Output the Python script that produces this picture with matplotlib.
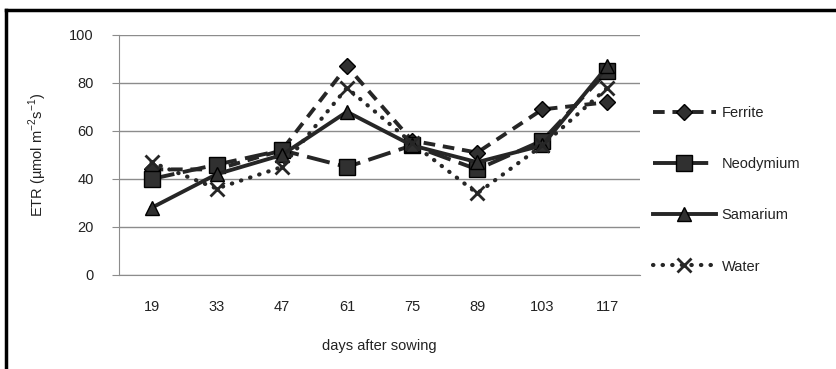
import matplotlib
matplotlib.use("Agg")
import matplotlib.pyplot as plt
from matplotlib.lines import Line2D

plt.rcParams['font.family'] = ['Liberation Sans', 'DejaVu Sans']
plt.rcParams['font.size'] = 10.5
plt.rcParams['axes.unicode_minus'] = False

# 数据
days = ['19', '33', '47', '61', '75', '89', '103', '117']
ferrite = [44, 44, 52, 87, 56, 51, 69, 72]
neodymium = [40, 46, 52, 45, 54, 44, 56, 85]
samarium = [28, 42, 50, 68, 54, 47, 54, 87]
water = [47, 36, 45, 78, 55, 34, 54, 78]

fig = plt.figure(figsize=(8.37, 3.69), dpi=100)
ax = fig.add_axes([119 / 837, 1 - 275 / 369, 521 / 837, 240 / 369])

x = list(range(len(days)))
dark = '#262626'
face = '#303030'

ax.plot(x, ferrite, color=dark, lw=2.8, linestyle=(0, (3, 2)),
        marker='D', markersize=8, markerfacecolor=face, markeredgecolor='black',
        label='Ferrite', zorder=3)
ax.plot(x, neodymium, color=dark, lw=2.8, linestyle=(0, (6, 2.2)),
        marker='s', markersize=11, markerfacecolor=face, markeredgecolor='black',
        label='Neodymium', zorder=3)
ax.plot(x, samarium, color=dark, lw=2.8, linestyle='-',
        marker='^', markersize=10, markerfacecolor=face, markeredgecolor='black',
        label='Samarium', zorder=3)
ax.plot(x, water, color=dark, lw=3.0, linestyle=(0, (0.1, 2.2)), dash_capstyle='round',
        marker='x', markersize=10, markeredgewidth=2, markeredgecolor=dark,
        label='Water', zorder=3)

ax.set_xlim(-0.5, len(days) - 0.5)
ax.set_ylim(0, 100)
ax.set_yticks([0, 20, 40, 60, 80, 100])
ax.set_xticks(x)
ax.set_xticklabels(days)

ax.grid(axis='y', color='#8c8c8c', lw=1)
ax.set_axisbelow(True)
for s in ['top', 'right']:
    ax.spines[s].set_visible(False)
ax.spines['left'].set_color('#8c8c8c')
ax.spines['bottom'].set_color('#8c8c8c')
ax.tick_params(axis='y', length=5, color='#8c8c8c', pad=13, labelcolor='#222222')
ax.tick_params(axis='x', length=0, pad=18, labelcolor='#222222')

ax.set_xlabel('days after sowing', labelpad=18, color='#222222')
ax.set_ylabel('ETR (µmol m$^{\\mathregular{-2}}$s$^{\\mathregular{-1}}$)', labelpad=15,
              color='#222222')

ax.legend(loc='center left', bbox_to_anchor=(1.0, 0.355), frameon=False,
          handlelength=4.3, labelspacing=2.55, handletextpad=0.4, labelcolor='#222222')

# 外框
fig.add_artist(Line2D([6 / 837, 6 / 837], [0, 1 - 10 / 369], color='black', lw=2.5,
                      transform=fig.transFigure))
fig.add_artist(Line2D([6 / 837, 1], [1 - 10 / 369, 1 - 10 / 369], color='black', lw=2.5,
                      transform=fig.transFigure))

plt.savefig('out.png', dpi=100)
